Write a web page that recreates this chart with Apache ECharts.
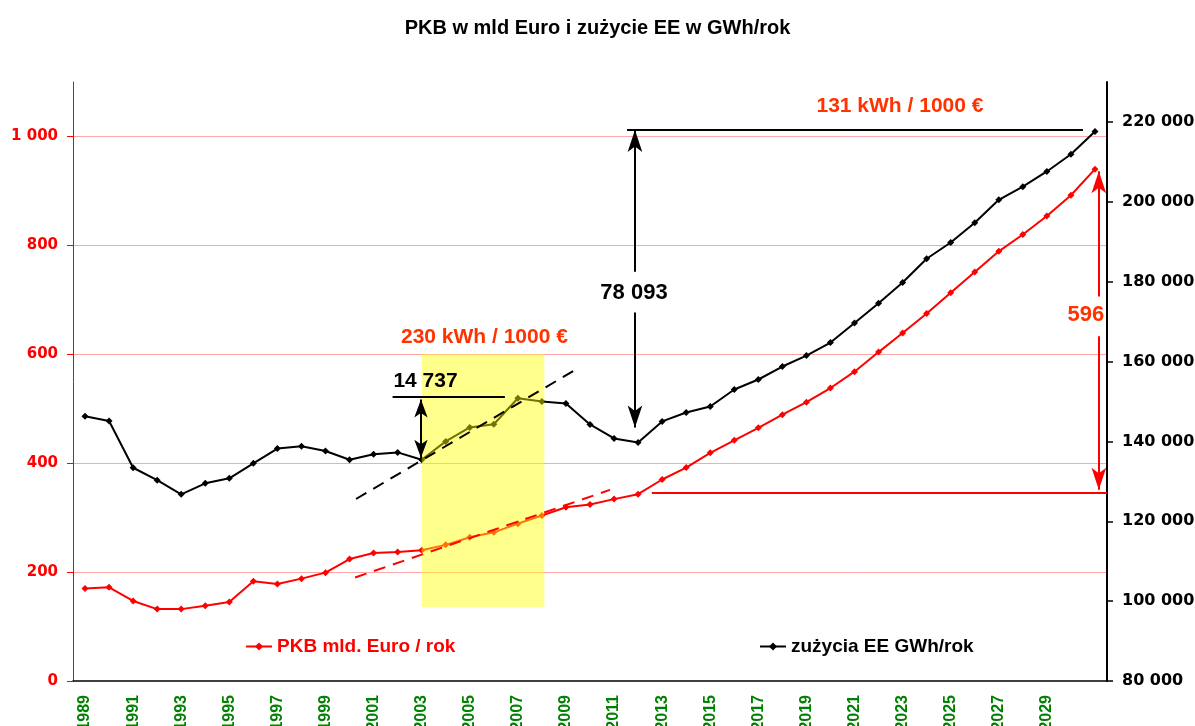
<!DOCTYPE html>
<html>
<head>
<meta charset="utf-8">
<script src="https://cdn.jsdelivr.net/npm/echarts@6/dist/echarts.min.js"></script>
<style>
html,body{margin:0;padding:0;background:#fff}
#main{width:1195px;height:726px}
</style>
</head>
<body>
<div id="main"></div>
<script>
var years = ['1989','1990','1991','1992','1993','1994','1995','1996','1997','1998',
  '1999','2000','2001','2002','2003','2004','2005','2006','2007','2008',
  '2009','2010','2011','2012','2013','2014','2015','2016','2017','2018',
  '2019','2020','2021','2022','2023','2024','2025','2026','2027','2028',
  '2029','2030','2031'];

// PKB mld. Euro / rok (left axis)
var pkb = [170,172,147,132,132,138,145,183,178,188,
  199,224,235,237,240,250,264,273,289,304,
  319,324,334,343,370,392,419,442,465,489,
  512,538,568,604,639,675,713,751,789,820,
  854,892,940];

// zuzycie EE GWh/rok (right axis)
var zuzycie = [146300,145100,133400,130300,126750,129500,130750,134500,138200,138800,
  137600,135400,136800,137250,135400,140000,143500,144300,150800,150000,
  149500,144250,140750,139750,145000,147250,148750,153000,155500,158750,
  161500,164750,169650,174600,179800,185750,189800,194750,200500,203800,
  207600,211900,217600];

var fontA = '"Liberation Sans", Arial, sans-serif';
var fontD = '"DejaVu Sans", sans-serif';

function spaced(v) {
  return String(v).replace(/\B(?=(\d{3})+(?!\d))/g, ' ');
}

// annotation helpers (x in years on a hidden value axis)
function seg(x1, y1, x2, y2, color, type, s1, s2, sz) {
  sz = sz || [11, 22];
  return [
    {coord: [x1, y1], symbol: s1 || 'none', symbolSize: sz,
     lineStyle: {color: color, width: 2, type: type || 'solid'}},
    {coord: [x2, y2], symbol: s2 || 'none', symbolSize: sz}
  ];
}
function txt(x, y, s, color, size) {
  return {coord: [x, y], value: s, symbol: 'circle', symbolSize: 1,
    itemStyle: {color: 'transparent'},
    label: {show: true, position: 'inside', formatter: s, color: color,
      fontSize: size, fontWeight: 'bold', fontFamily: fontA}};
}

var option = {
  animation: false,
  backgroundColor: '#fff',
  title: {
    text: 'PKB w mld Euro i zużycie EE w GWh/rok',
    left: 'center', top: 13,
    textStyle: {fontFamily: fontA, fontSize: 20, fontWeight: 'bold', color: '#000'}
  },
  legend: [
    {data: ['PKB mld. Euro / rok'], left: 240, top: 632, itemWidth: 26, itemHeight: 10,
     textStyle: {color: '#FF0000', fontFamily: fontA, fontSize: 19, fontWeight: 'bold'}},
    {data: ['zużycia EE GWh/rok'], left: 754, top: 632, itemWidth: 26, itemHeight: 10,
     textStyle: {color: '#000', fontFamily: fontA, fontSize: 19, fontWeight: 'bold'}}
  ],
  grid: {left: 73, right: 88, top: 82, bottom: 45, outerBoundsMode: 'none', containLabel: false},
  xAxis: [
    {
      type: 'category', data: years, boundaryGap: true,
      axisLine: {lineStyle: {color: '#000', width: 1.5}},
      axisTick: {interval: 0, length: 5, lineStyle: {color: '#000'}},
      axisLabel: {
        interval: function (i) { return i % 2 === 0 && i < 42; },
        rotate: 90, margin: 14, color: '#008000',
        fontFamily: fontA, fontSize: 16, fontWeight: 'bold'
      },
      splitLine: {show: false}
    },
    {type: 'value', min: 1988.5, max: 2031.5, show: false, position: 'top'}
  ],
  yAxis: [
    {
      type: 'value', min: 0, max: 1100, interval: 200, position: 'left',
      axisLine: {show: true, lineStyle: {color: '#FF0000', width: 1}},
      axisTick: {show: true, length: 6, lineStyle: {color: '#FF0000'}},
      axisLabel: {color: '#FF0000', fontFamily: fontD, fontSize: 15, fontWeight: 'bold',
        margin: 15, showMaxLabel: false, formatter: spaced},
      splitLine: {show: true, showMinLine: false, showMaxLine: false,
        lineStyle: {color: 'rgba(255,0,0,0.35)', width: 1}}
    },
    {
      type: 'value', min: 80000, max: 230000, interval: 20000, position: 'right',
      axisLine: {show: true, lineStyle: {color: '#000', width: 2}},
      axisTick: {show: true, length: 6, lineStyle: {color: '#000', width: 1.5}},
      axisLabel: {color: '#000', fontFamily: fontD, fontSize: 16, fontWeight: 'bold',
        margin: 15, showMaxLabel: false, formatter: spaced},
      splitLine: {show: false}
    }
  ],
  series: [
    {
      name: 'PKB mld. Euro / rok', type: 'line', yAxisIndex: 0, data: pkb,
      color: '#FF0000', symbol: 'diamond', symbolSize: 7,
      lineStyle: {width: 2, color: '#FF0000'}, itemStyle: {color: '#FF0000'}, z: 2
    },
    {
      name: 'zużycia EE GWh/rok', type: 'line', yAxisIndex: 1, data: zuzycie,
      color: '#000', symbol: 'diamond', symbolSize: 7,
      lineStyle: {width: 2, color: '#000'}, itemStyle: {color: '#000'}, z: 2
    },
    {
      name: 'annRed', type: 'line', xAxisIndex: 1, yAxisIndex: 0, data: [],
      markArea: {
        silent: true, z: 3,
        itemStyle: {color: 'rgba(255,255,0,0.45)'},
        data: [[{coord: [2003.0, 600]}, {coord: [2008.1, 136]}]]
      },
      markLine: {
        silent: true, z: 5, label: {show: false}, symbol: 'none',
        data: [
          seg(2000.23, 190, 2010.83, 351, '#FF0000', [12, 8]),
          seg(2012.57, 345.7, 2031.5, 345.7, '#FF0000'),
          seg(2031.16, 706, 2031.16, 936, '#FF0000', 'solid', 'none', 'arrow'),
          seg(2031.16, 633, 2031.16, 351, '#FF0000', 'solid', 'none', 'arrow')
        ]
      },
      markPoint: {
        silent: true, z: 6,
        data: [
          txt(2005.61, 632, '230 kWh / 1000 €', '#FF3300', 21),
          txt(2022.89, 1055, '131 kWh / 1000 €', '#FF3300', 21),
          txt(2030.62, 673, '596', '#FF3300', 22)
        ]
      }
    },
    {
      name: 'annBlack', type: 'line', xAxisIndex: 1, yAxisIndex: 1, data: [],
      markLine: {
        silent: true, z: 5, label: {show: false}, symbol: 'none',
        data: [
          seg(2000.27, 125575, 2009.48, 158250, '#000', [12, 8]),
          seg(2001.79, 151250, 2006.46, 151250, '#000'),
          seg(2002.97, 150500, 2002.97, 135900, '#000', 'solid', 'arrow', 'arrow', [10, 18]),
          seg(2011.54, 218000, 2030.5, 218000, '#000'),
          seg(2011.87, 182500, 2011.87, 218000, '#000', 'solid', 'none', 'arrow'),
          seg(2011.87, 172300, 2011.87, 143500, '#000', 'solid', 'none', 'arrow')
        ]
      },
      markPoint: {
        silent: true, z: 6,
        data: [
          txt(2003.16, 155075, '14 737', '#000', 21),
          txt(2011.83, 177075, '78 093', '#000', 22)
        ]
      }
    }
  ]
};

var myChart = echarts.init(document.getElementById('main'));
myChart.setOption(option);
</script>
</body>
</html>
